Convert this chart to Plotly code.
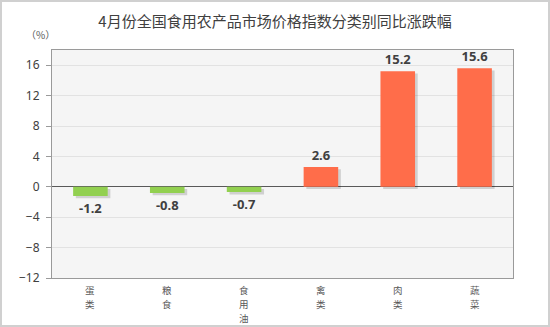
import plotly.graph_objects as go

# 4月份全国食用农产品市场价格指数分类别同比涨跌幅
categories = ["蛋类", "粮食", "食用油", "禽类", "肉类", "蔬菜"]
changes = [-1.2, -0.8, -0.7, 2.6, 15.2, 15.6]
y_ticks = [-12, -8, -4, 0, 4, 8, 12, 16]

GREEN = "#92D050"
RED = "#FF6D4A"
TEXT = "#404040"

bar_colors = [GREEN if v < 0 else RED for v in changes]
xpos = list(range(len(categories)))

W, H = 550, 327
ML, MR, MT, MB = 52, 37, 50, 49
pw, ph = W - ML - MR, H - MT - MB

fig = go.Figure()

# soft drop shadow under each bar
shadow_drop = 0.3
fig.add_trace(go.Bar(
    x=xpos,
    y=changes,
    base=[-shadow_drop] * len(changes),
    width=0.45,
    offset=-0.225 + 0.035,
    marker=dict(color="rgba(0,0,0,0.15)", line=dict(width=0)),
    hoverinfo="skip",
    showlegend=False,
))

fig.add_trace(go.Bar(
    x=xpos,
    y=changes,
    width=0.45,
    marker=dict(color=bar_colors, line=dict(width=0)),
    text=[f"{v:.1f}" for v in changes],
    textposition="outside",
    textfont=dict(family="Noto Sans, Open Sans, sans-serif", size=13, color=TEXT, weight="bold"),
    cliponaxis=False,
    showlegend=False,
))

# category names written vertically, one character per line
LABEL_SIZE = 9.5
LINE_STEP = 13.8
FIRST_LINE = 12
category_labels = []
for i, name in enumerate(categories):
    for j, ch in enumerate(name):
        category_labels.append(dict(
            text=ch,
            xref="x", yref="paper",
            x=xpos[i], y=0,
            xanchor="center", yanchor="middle",
            yshift=-(FIRST_LINE + j * LINE_STEP),
            showarrow=False,
            font=dict(size=LABEL_SIZE, color="#595959", family="Noto Sans CJK SC"),
        ))

fig.update_layout(
    width=W,
    height=H,
    margin=dict(l=ML, r=MR, t=MT, b=MB, autoexpand=False),
    paper_bgcolor="white",
    plot_bgcolor="#F5F5F5",
    barmode="overlay",
    font=dict(family="Noto Sans CJK SC, Noto Sans, sans-serif", color=TEXT),
    title=dict(
        text="4月份全国食用农产品市场价格指数分类别同比涨跌幅",
        x=0.5,
        xanchor="center",
        y=1 - 22 / H,
        yanchor="middle",
        font=dict(size=15, color=TEXT, family="Noto Sans CJK SC"),
    ),
    xaxis=dict(
        range=[-0.5, len(categories) - 0.5],
        tickvals=xpos,
        showticklabels=False,
        showgrid=False,
        zeroline=False,
        showline=True,
        linecolor="#9A9A9A",
        linewidth=1,
        mirror=True,
        ticks="",
        automargin=False,
    ),
    yaxis=dict(
        range=[-12, 18],
        tickmode="array",
        tickvals=y_ticks,
        tickfont=dict(size=12, color=TEXT, family="Noto Sans, Open Sans, sans-serif"),
        showgrid=True,
        gridcolor="#E2E2E2",
        gridwidth=1,
        zeroline=True,
        zerolinecolor="#595959",
        zerolinewidth=1,
        showline=True,
        linecolor="#9A9A9A",
        linewidth=1,
        mirror=True,
        ticks="outside",
        ticklen=5,
        tickcolor="#9A9A9A",
        ticklabelstandoff=4,
        automargin=False,
    ),
    annotations=[
        dict(
            text="（%）",
            xref="paper", yref="paper",
            x=(40 - ML) / pw, y=(H - MB - 34) / ph,
            xanchor="center", yanchor="middle",
            showarrow=False,
            font=dict(size=10, color="#595959", family="Noto Sans CJK SC"),
        )
    ] + category_labels,
    shapes=[
        dict(
            type="rect",
            xref="paper", yref="paper",
            x0=(1 - ML) / pw, x1=(W - 1 - ML) / pw,
            y0=(H - MB - (H - 1)) / ph, y1=(H - MB - 1) / ph,
            line=dict(color="#D0D0D0", width=2),
            fillcolor="rgba(0,0,0,0)",
            layer="below",
        )
    ],
)

fig.write_html("out.html")
